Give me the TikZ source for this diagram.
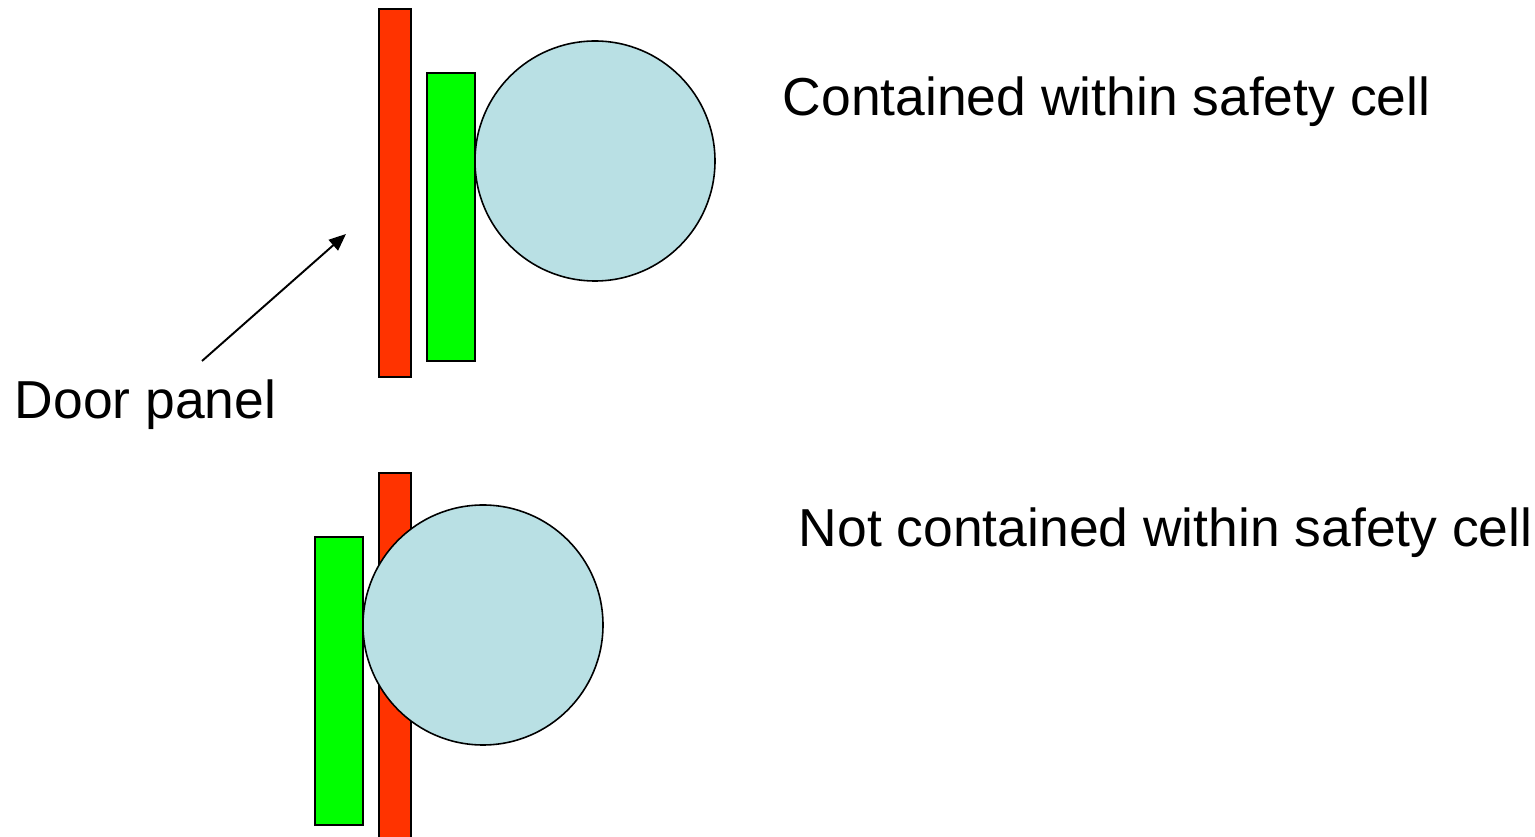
\documentclass[tikz,border=0pt]{standalone}
\usepackage{fontspec}
\setmainfont{Liberation Sans}
\usetikzlibrary{arrows.meta}
\definecolor{panelred}{RGB}{255,51,0}
\definecolor{paneltgreen}{RGB}{0,255,0}
\definecolor{headblue}{RGB}{185,224,228}
\tikzset{
  panel/.style={draw=black, line width=0.45pt},
  head/.style={draw=black, line width=0.45pt, fill=headblue},
  label/.style={anchor=base west, inner sep=0pt, font=\fontsize{15.2}{18}\selectfont},
  pointer/.style={line width=0.55pt, -{Triangle[length=0.17cm,width=0.14cm]}}
}
\begin{document}
\begin{tikzpicture}[x=0.01cm,y=-0.01cm]
\useasboundingbox (0,0) rectangle (1535,837);
% top configuration
\draw[panel, fill=panelred] (379,9) rectangle (411,377);
\draw[panel, fill=paneltgreen] (427,73) rectangle (475,361);
\draw[head] (595,161) circle[radius=120];
% bottom configuration
\draw[panel, fill=panelred] (379,473) rectangle (411,850);
\draw[panel, fill=paneltgreen] (315,537) rectangle (363,825);
\draw[head] (483,625) circle[radius=120];
% labels
\node[label] (top) at (782,116) {Contained within safety cell};
\node[label] (bot) at (798,547) {Not contained within safety cell};
\node[label] (door) at (14,419) {Door panel};
% pointer
\coordinate (ptail) at (202,361);
\coordinate (ptip) at (346,234);
\draw[pointer] (ptail) -- (ptip);
\end{tikzpicture}
\end{document}
